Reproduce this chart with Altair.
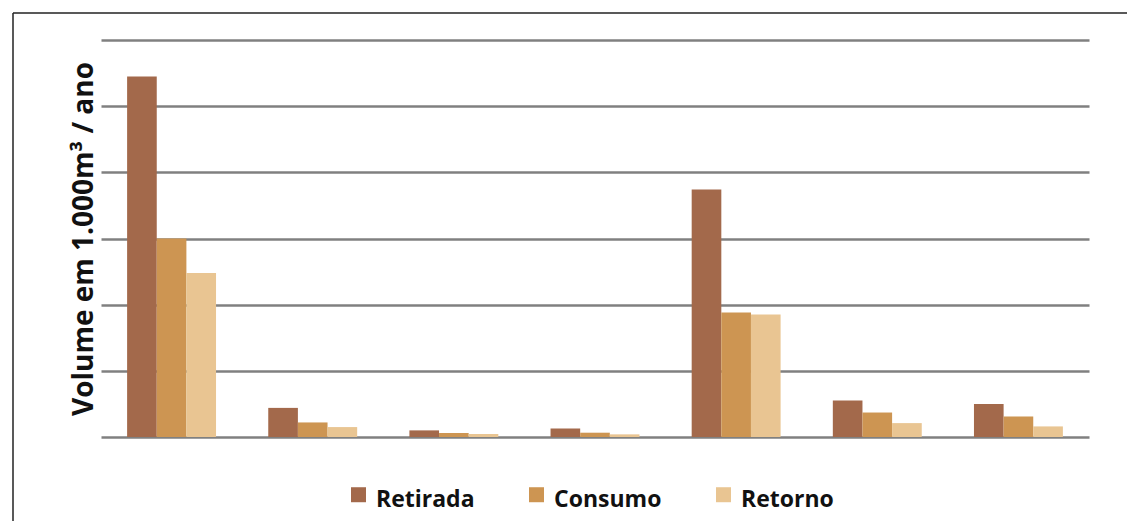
import altair as alt
import pandas as pd

groups = ["C1", "C2", "C3", "C4", "C5", "C6", "C7"]
series = ["Retirada", "Consumo", "Retorno"]
retirada = [5.45, 0.44, 0.10, 0.13, 3.74, 0.55, 0.50]
consumo = [3.00, 0.22, 0.06, 0.065, 1.88, 0.37, 0.31]
retorno = [2.48, 0.15, 0.045, 0.04, 1.85, 0.21, 0.16]
colors = ["#A3694B", "#CD9552", "#E9C592"]

rows = []
for name, vals in zip(series, [retirada, consumo, retorno]):
    for g, v in zip(groups, vals):
        rows.append({"grupo": g, "serie": name, "valor": v})
df = pd.DataFrame(rows)

FONT = "Open Sans"

bars = alt.Chart(df).mark_bar().encode(
    x=alt.X("grupo:N", sort=groups, axis=None,
            scale=alt.Scale(paddingInner=0.37, paddingOuter=0.185)),
    xOffset=alt.XOffset("serie:N", sort=series, scale=alt.Scale(paddingInner=0, paddingOuter=0)),
    y=alt.Y("valor:Q",
            scale=alt.Scale(domain=[0, 6], nice=False),
            axis=alt.Axis(values=[0, 1, 2, 3, 4, 5, 6], labels=False, ticks=False, domain=False,
                          grid=True, gridColor="#808080", gridWidth=2.5,
                          title="Volume em 1.000m³ / ano", titleFont=FONT, titleFontSize=28,
                          titleFontWeight="bold", titleColor="#111111", titleAngle=-90,
                          titleX=-9, titleY=198.5, titleAlign="center", titleBaseline="alphabetic")),
    color=alt.Color("serie:N", sort=series,
                    scale=alt.Scale(domain=series, range=colors),
                    legend=alt.Legend(title=None, orient="none", direction="horizontal",
                                      legendX=246, legendY=448,
                                      symbolType="M-1,-1.67H1V0.33H-1Z", symbolSize=225,
                                      symbolStrokeWidth=0, symbolOpacity=1,
                                      labelFont=FONT, labelFontSize=23, labelFontWeight="bold",
                                      labelColor="#111111", labelOffset=6, columnPadding=50,
                                      padding=0)),
)

frame_df = pd.DataFrame({"k": [0]})
top_line = alt.Chart(frame_df).mark_rule(color="#222222", strokeWidth=1.5).encode(
    x=alt.value(-88), x2=alt.value(1040), y=alt.value(-27))
left_line = alt.Chart(frame_df).mark_rule(color="#222222", strokeWidth=1.5).encode(
    x=alt.value(-88), y=alt.value(-27), y2=alt.value(495))

chart = alt.layer(bars, top_line, left_line).properties(
    width=988, height=397,
    autosize=alt.AutoSizeParams(type="none"),
    padding={"left": 93, "top": 32, "right": 38, "bottom": 84},
).configure_view(stroke=None)

chart.save("out.html", embed_options={"renderer": "svg", "actions": False})
